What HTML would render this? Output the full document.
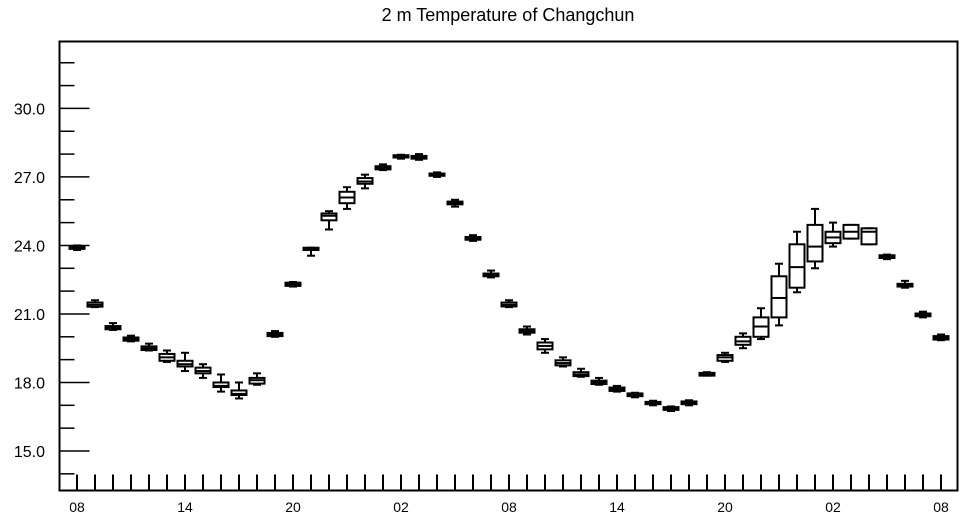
<!DOCTYPE html>
<html><head><meta charset="utf-8"><style>
body{margin:0;background:#fff;}
svg{display:block;font-family:"Liberation Sans",Arial,sans-serif;}
</style></head><body>
<svg id="chart" width="964" height="520" viewBox="0 0 964 520">
<text x="508" y="21" font-size="18" text-anchor="middle">2 m Temperature of Changchun</text>
<rect x="59.5" y="41.5" width="898" height="449" fill="none" stroke="#000" stroke-width="2"/>
<g id="marks"></g>
</svg>
<script>
const medians=[23.9,21.4,20.4,19.9,19.5,19.1,18.8,18.5,17.85,17.5,18.1,20.1,22.3,23.85,25.3,26.1,26.8,27.4,27.9,27.85,27.1,25.85,24.3,22.7,21.4,20.25,19.6,18.85,18.35,18.0,17.7,17.45,17.1,16.85,17.1,18.35,19.1,19.8,20.45,21.7,23.05,23.95,24.35,24.6,24.6,23.5,22.25,20.95,19.95];
const q1s=[23.85,21.32,20.33,19.83,19.42,18.95,18.7,18.4,17.8,17.45,17.95,20.03,22.23,23.8,25.1,25.85,26.7,27.33,27.85,27.8,27.05,25.8,24.25,22.65,21.33,20.18,19.45,18.75,18.28,17.93,17.63,17.4,17.05,16.8,17.05,18.3,18.95,19.65,20.0,20.85,22.15,23.3,24.1,24.3,24.05,23.45,22.2,20.9,19.88];
const q3s=[23.97,21.5,20.47,19.97,19.58,19.25,18.95,18.65,18.0,17.65,18.2,20.17,22.37,23.9,25.4,26.35,26.95,27.47,27.95,27.92,27.15,25.92,24.37,22.77,21.5,20.33,19.75,18.97,18.45,18.08,17.78,17.52,17.15,16.92,17.17,18.42,19.2,20.0,20.85,22.65,24.05,24.9,24.6,24.9,24.75,23.57,22.32,21.02,20.03];
const mins=[23.8,21.3,20.3,19.8,19.4,18.9,18.5,18.2,17.6,17.3,17.9,20.0,22.2,23.55,24.7,25.6,26.5,27.3,27.8,27.75,27.0,25.7,24.2,22.6,21.3,20.1,19.3,18.7,18.25,17.9,17.6,17.35,17.0,16.75,17.0,18.3,18.9,19.5,19.9,20.5,21.95,23.0,23.95,24.3,24.05,23.4,22.15,20.85,19.85];
const maxs=[24.0,21.6,20.6,20.05,19.7,19.4,19.3,18.8,18.35,18.0,18.4,20.25,22.4,23.9,25.5,26.55,27.1,27.55,27.97,28.0,27.2,26.0,24.45,22.9,21.6,20.45,19.9,19.1,18.6,18.2,17.85,17.55,17.2,16.95,17.22,18.45,19.3,20.15,21.25,23.2,24.6,25.6,25.0,24.9,24.75,23.6,22.45,21.1,20.1];
const xLabels=["08","14","20","02","08","14","20","02","08"];
const yTicks=[15.0,18.0,21.0,24.0,27.0,30.0];
const NS="http://www.w3.org/2000/svg";
const X0=59.5,X1=957.5,Y0=41.5,Y1=490.5,YMIN=13.27,YMAX=32.93;
const xs=i=>77+(i)*(864/48);
const ys=v=>Y1-(v-YMIN)/(YMAX-YMIN)*(Y1-Y0);
const g=document.getElementById('marks');
function el(t,a){const e=document.createElementNS(NS,t);for(const k in a)e.setAttribute(k,a[k]);g.appendChild(e);return e;}
// y ticks
for(let v=14;v<=32;v++){
  const major=yTicks.some(t=>Math.abs(t-v)<1e-6);
  const t=el('line',{x1:X0,x2:X0+(major?30:15),y1:ys(v),y2:ys(v),stroke:'#000','stroke-width':1.5});
  
  
}
yTicks.forEach(v=>{
  const t=el('text',{x:45,y:ys(v)+6,'font-size':16,'text-anchor':'end'});
  t.textContent=v.toFixed(1);
  
  
});
// x ticks
for(let i=0;i<medians.length;i++){
  const t=el('line',{x1:xs(i),x2:xs(i),y1:Y1,y2:Y1-16,stroke:'#000','stroke-width':2});
  
  
}
xLabels.forEach((s,k)=>{
  const t=el('text',{x:xs(k*6),y:512,'font-size':14,'text-anchor':'middle'});
  t.textContent=s;
  
  
});
// boxes
const hw=7.5,cw=4;
for(let i=0;i<medians.length;i++){
  const x=xs(i);
  const grp=document.createElementNS(NS,'g');
  
  
  g.appendChild(grp);
  const add=(t,a)=>{const e=document.createElementNS(NS,t);for(const k in a)e.setAttribute(k,a[k]);grp.appendChild(e);return e;};
  const st={stroke:'#000','stroke-width':2,fill:'none'};
  add('line',Object.assign({x1:x,x2:x,y1:ys(maxs[i]),y2:ys(q3s[i])},st));
  add('line',Object.assign({x1:x,x2:x,y1:ys(q1s[i]),y2:ys(mins[i])},st));
  add('line',Object.assign({x1:x-cw,x2:x+cw,y1:ys(maxs[i]),y2:ys(maxs[i])},st));
  add('line',Object.assign({x1:x-cw,x2:x+cw,y1:ys(mins[i]),y2:ys(mins[i])},st));
  const top=ys(q3s[i]),bot=ys(q1s[i]);
  add('rect',Object.assign({x:x-hw,y:top,width:hw*2,height:Math.max(bot-top,1.5)},st,{fill:'#fff'}));
  add('line',Object.assign({x1:x-hw,x2:x+hw,y1:ys(medians[i]),y2:ys(medians[i])},st));
}
</script>
</body></html>
